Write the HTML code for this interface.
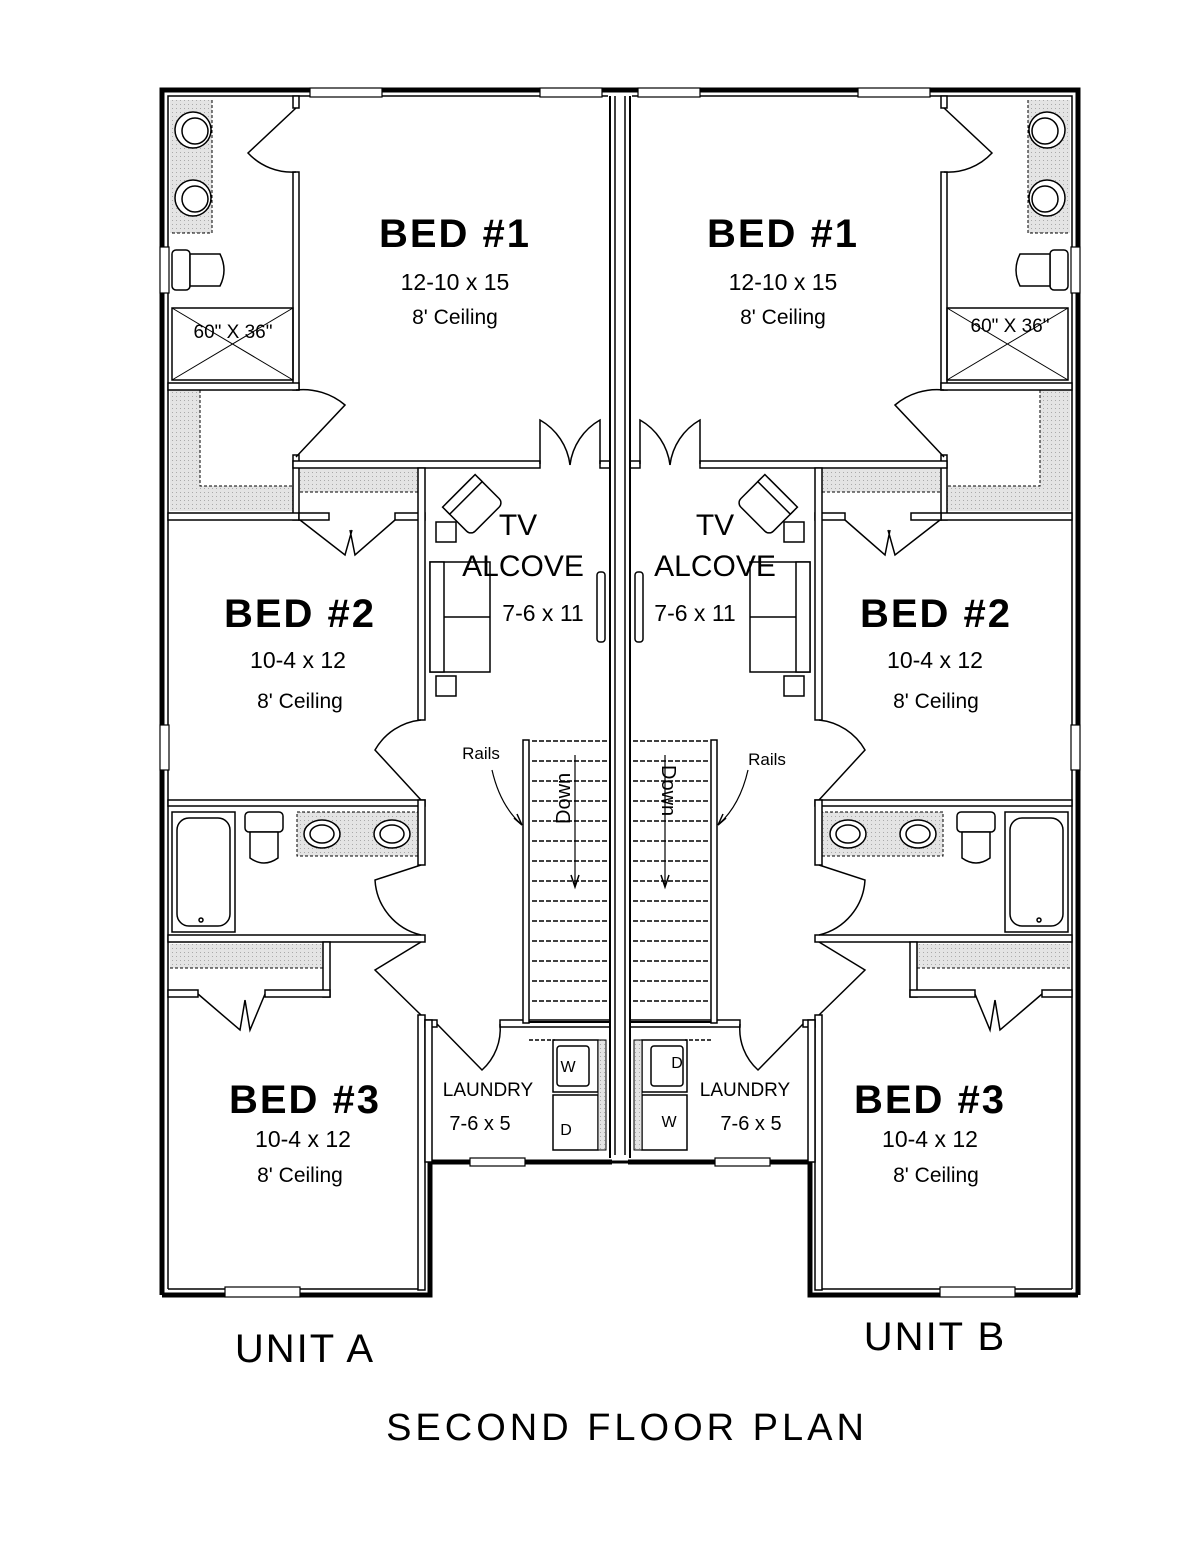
<!DOCTYPE html>
<html><head><meta charset="utf-8"><style>
html,body{margin:0;padding:0;background:#fff;}
svg{display:block;}
text{font-family:"Liberation Sans",sans-serif;fill:#000;}
</style></head><body>
<svg width="1200" height="1553" viewBox="0 0 1200 1553" xmlns="http://www.w3.org/2000/svg">
<defs>
<pattern id="sh" width="4" height="4" patternUnits="userSpaceOnUse"><rect width="4" height="4" fill="#e4e4e4"/><rect width="1" height="1" fill="#aaa"/></pattern>
</defs>
<g id="h" fill="none" stroke="#000">
  <path d="M162,1295 V90 H612" stroke-width="5"/>
  <path d="M162,1295 H430 V1162 H612" stroke-width="5"/>
  <path d="M168,1289 V96 H608" stroke-width="1.5"/>
  <path d="M168,1289 H424" stroke-width="1.5"/>
  <rect x="310" y="88" width="72" height="9" fill="#fff" stroke-width="1.2"/>
  <rect x="540" y="88" width="62" height="9" fill="#fff" stroke-width="1.2"/>
  <rect x="160" y="247" width="9" height="46" fill="#fff" stroke-width="1.2"/>
  <rect x="160" y="725" width="9" height="45" fill="#fff" stroke-width="1.2"/>
  <rect x="225" y="1287" width="75" height="10" fill="#fff" stroke-width="1.2"/>
  <rect x="470" y="1158" width="55" height="8" fill="#fff" stroke-width="1.2"/>
  <rect x="170" y="100" width="42" height="133" fill="url(#sh)" stroke="none"/>
  <path d="M212,100 V233 H170" stroke-dasharray="3,2" stroke-width="1"/>
  <path d="M170,390 H200 V486 H293 V511 H170 Z" fill="url(#sh)" stroke="none"/>
  <path d="M200,390 V486 H293" stroke-dasharray="3,2" stroke-width="1"/>
  <rect x="300" y="469" width="118" height="23" fill="url(#sh)" stroke="none"/>
  <path d="M300,492 H418" stroke-dasharray="3,2" stroke-width="1"/>
  <rect x="170" y="944" width="153" height="24" fill="url(#sh)" stroke="none"/>
  <path d="M170,968 H323" stroke-dasharray="3,2" stroke-width="1"/>
  <rect x="297" y="812" width="121" height="44" fill="url(#sh)" stroke-width="1" stroke-dasharray="3,2"/>
  <g fill="#fff" stroke-width="1.5">
    <rect x="293" y="96" width="6" height="12"/>
    <rect x="293" y="172" width="6" height="218"/>
    <rect x="168" y="383" width="131" height="7"/>
    <rect x="293" y="455" width="6" height="65"/>
    <rect x="293" y="461" width="247" height="7"/>
    <rect x="600" y="461" width="10" height="7"/>
    <rect x="168" y="513" width="131" height="7"/>
    <rect x="299" y="513" width="30" height="7"/>
    <rect x="395" y="513" width="30" height="7"/>
    <rect x="418" y="468" width="7" height="252"/>
    <rect x="168" y="800" width="257" height="6"/>
    <rect x="418" y="800" width="7" height="65"/>
    <rect x="168" y="935" width="257" height="7"/>
    <rect x="323" y="942" width="7" height="55"/>
    <rect x="168" y="990" width="30" height="7"/>
    <rect x="265" y="990" width="65" height="7"/>
    <rect x="418" y="1015" width="7" height="275"/>
    <rect x="425" y="1020" width="12" height="7"/>
    <rect x="500" y="1020" width="110" height="7"/>
    <rect x="425" y="1020" width="7" height="142"/>
  </g>
  <g stroke-width="1.5">
    <path d="M296,108 L248,153 A60,60 0 0 0 296,172"/>
    <path d="M296,390 A65,65 0 0 1 345,405 L296,457"/>
    <path d="M540,464 L540,420 A60,60 0 0 1 570,465"/>
    <path d="M600,464 L600,420 A60,60 0 0 0 570,465"/>
    <path d="M300,520 L345,555 L352,530 M395,520 L355,555 L350,530"/>
    <path d="M421,720 A60,60 0 0 0 375,750 L421,800"/>
    <path d="M421,865 L375,880 A60,60 0 0 0 421,935"/>
    <path d="M421,942 L375,970 L421,1015"/>
    <path d="M198,994 L240,1030 L245,1000 M265,994 L250,1030 L245,1000"/>
    <path d="M437,1024 L482,1070 A55,55 0 0 0 500,1024"/>
  </g>
  <g stroke-width="1.5" fill="#fff">
    <circle cx="193" cy="130" r="18"/><circle cx="195" cy="131" r="13"/>
    <circle cx="193" cy="198" r="18"/><circle cx="195" cy="199" r="13"/>
    <rect x="172" y="250" width="18" height="40" rx="4"/>
    <path d="M190,254 H220 Q228,270 220,286 H190 Z"/>
    <rect x="172" y="308" width="121" height="72" fill="none"/>
    <path d="M172,308 L293,380 M293,308 L172,380" fill="none" stroke-width="1"/>
    <rect x="172" y="812" width="63" height="120" fill="none"/>
    <rect x="177" y="818" width="53" height="108" rx="12"/>
    <circle cx="201" cy="920" r="2"/>
    <rect x="245" y="812" width="38" height="20" rx="4"/>
    <path d="M250,832 V858 Q264,868 278,858 V832 Z"/>
    <ellipse cx="322" cy="834" rx="18" ry="14"/><ellipse cx="322" cy="834" rx="12" ry="9"/>
    <ellipse cx="392" cy="834" rx="18" ry="14"/><ellipse cx="392" cy="834" rx="12" ry="9"/>
    <rect x="430" y="562" width="60" height="110"/>
    <rect x="430" y="562" width="14" height="110"/>
    <path d="M444,617 H490"/>
    <rect x="436" y="522" width="20" height="20"/>
    <rect x="436" y="676" width="20" height="20"/>
    <g transform="rotate(-45 473 505)"><rect x="450" y="485" width="46" height="40" rx="6"/><rect x="450" y="485" width="46" height="10"/></g>
    <rect x="597" y="572" width="8" height="70" rx="3"/>
    <rect x="553" y="1040" width="45" height="52"/>
    <rect x="557" y="1046" width="32" height="40" rx="3"/>
    <rect x="553" y="1095" width="45" height="55"/>
    <rect x="598" y="1040" width="8" height="110" fill="url(#sh)" stroke-width="1"/>
  </g>
  <g stroke-width="1.5">
    <rect x="523" y="740" width="6" height="283" fill="#fff"/>
    <path d="M529,1022 H610" stroke-width="2"/>
    <path d="M529,1040 H555" stroke-dasharray="4,2"/>
    <g stroke-dasharray="5,2">
      <path d="M532,741 H608 M532,761 H608 M532,781 H608 M532,801 H608 M532,821 H608 M532,841 H608 M532,861 H608 M532,881 H608 M532,901 H608 M532,921 H608 M532,941 H608 M532,961 H608 M532,981 H608 M532,1001 H608"/>
    </g>
    <path d="M575,755 V885" stroke-width="1.2"/>
    <path d="M571,875 L575,887 L579,875" fill="none"/>
    <path d="M492,770 Q500,805 521,824" stroke-width="1.2"/>
    <path d="M514,818 L522,825 L517,814" />
  </g>
</g>
<use href="#h" transform="matrix(-1 0 0 1 1240 0)"/>
<g stroke="#000" fill="none">
  <path d="M608,90 H632" stroke-width="5"/>
  <path d="M608,1162 H632" stroke-width="3"/>
  <path d="M610,96 V1158" stroke-width="2"/>
  <path d="M615,96 V1155" stroke-width="1.5"/>
  <path d="M625,96 V1155" stroke-width="1.5"/>
  <path d="M630,96 V1158" stroke-width="2"/>
</g>
<g text-anchor="middle">
  <text x="455" y="247" font-size="40" font-weight="bold" letter-spacing="2">BED #1</text>
  <text x="455" y="290" font-size="23">12-10 x 15</text>
  <text x="455" y="324" font-size="21">8' Ceiling</text>
  <text x="783" y="247" font-size="40" font-weight="bold" letter-spacing="2">BED #1</text>
  <text x="783" y="290" font-size="23">12-10 x 15</text>
  <text x="783" y="324" font-size="21">8' Ceiling</text>
  <text x="300" y="627" font-size="40" font-weight="bold" letter-spacing="2">BED #2</text>
  <text x="298" y="668" font-size="23">10-4 x 12</text>
  <text x="300" y="708" font-size="21">8' Ceiling</text>
  <text x="936" y="627" font-size="40" font-weight="bold" letter-spacing="2">BED #2</text>
  <text x="935" y="668" font-size="23">10-4 x 12</text>
  <text x="936" y="708" font-size="21">8' Ceiling</text>
  <text x="305" y="1113" font-size="40" font-weight="bold" letter-spacing="2">BED #3</text>
  <text x="303" y="1147" font-size="23">10-4 x 12</text>
  <text x="300" y="1182" font-size="21">8' Ceiling</text>
  <text x="930" y="1113" font-size="40" font-weight="bold" letter-spacing="2">BED #3</text>
  <text x="930" y="1147" font-size="23">10-4 x 12</text>
  <text x="936" y="1182" font-size="21">8' Ceiling</text>
  <text x="518" y="535" font-size="30">TV</text>
  <text x="523" y="576" font-size="30">ALCOVE</text>
  <text x="543" y="621" font-size="23">7-6 x 11</text>
  <text x="715" y="535" font-size="30">TV</text>
  <text x="715" y="576" font-size="30">ALCOVE</text>
  <text x="695" y="621" font-size="23">7-6 x 11</text>
  <text x="488" y="1096" font-size="19">LAUNDRY</text>
  <text x="480" y="1130" font-size="20">7-6 x 5</text>
  <text x="745" y="1096" font-size="19">LAUNDRY</text>
  <text x="751" y="1130" font-size="20">7-6 x 5</text>
  <text x="481" y="759" font-size="17">Rails</text>
  <text x="767" y="765" font-size="17">Rails</text>
  <text x="305" y="1362" font-size="40" letter-spacing="2">UNIT A</text>
  <text x="935" y="1350" font-size="40" letter-spacing="2">UNIT B</text>
  <text x="627" y="1440" font-size="38" letter-spacing="4">SECOND FLOOR PLAN</text>
  <text x="233" y="338" font-size="19">60" X 36"</text>
  <text x="1010" y="332" font-size="19">60" X 36"</text>
  <text x="568" y="1072" font-size="16">W</text>
  <text x="566" y="1135" font-size="16">D</text>
  <text x="677" y="1068" font-size="16">D</text>
  <text x="669" y="1127" font-size="16">W</text>
</g>
<text x="0" y="0" font-size="20" transform="translate(570,824) rotate(-90)">Down</text>
<text x="0" y="0" font-size="20" transform="translate(662,765) rotate(90)">Down</text>
</svg>
</body></html>
